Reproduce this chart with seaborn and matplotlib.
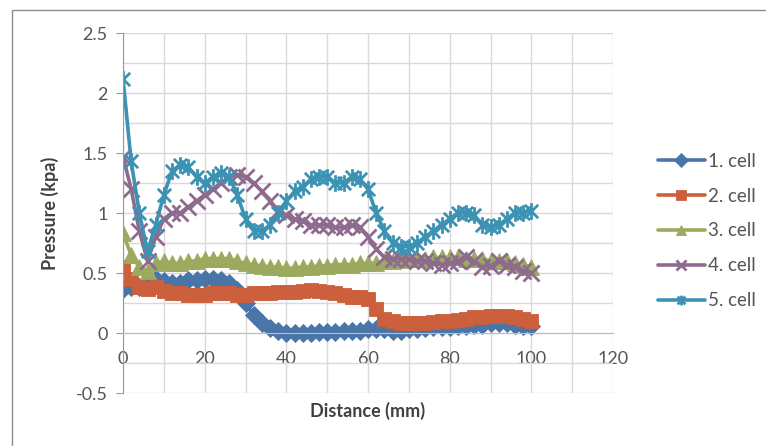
import numpy as np
import pandas as pd
import matplotlib
matplotlib.use("Agg")
import matplotlib.pyplot as plt
from matplotlib.path import Path
from matplotlib.patches import Rectangle
from matplotlib.ticker import MultipleLocator
import seaborn as sns

distance = list(range(0, 101, 2))

cell1 = [0.37, 0.38, 0.38, 0.42, 0.45, 0.43, 0.42, 0.42, 0.44, 0.44, 0.45, 0.45, 0.44, 0.42,
         0.36, 0.25, 0.15, 0.08, 0.04, 0.02, 0.00, 0.00, 0.00, 0.00, 0.01, 0.01, 0.01, 0.02,
         0.02, 0.02, 0.03, 0.03, 0.03, 0.02, 0.02, 0.03, 0.03, 0.04, 0.05, 0.05, 0.05, 0.06,
         0.06, 0.07, 0.07, 0.08, 0.08, 0.08, 0.07, 0.06, 0.06]
cell2 = [0.55, 0.45, 0.38, 0.37, 0.38, 0.35, 0.33, 0.33, 0.32, 0.32, 0.32, 0.33, 0.33, 0.33,
         0.32, 0.32, 0.33, 0.33, 0.33, 0.34, 0.34, 0.34, 0.35, 0.36, 0.35, 0.34, 0.33, 0.32,
         0.30, 0.30, 0.28, 0.20, 0.12, 0.10, 0.08, 0.08, 0.08, 0.08, 0.09, 0.10, 0.10, 0.11,
         0.12, 0.13, 0.13, 0.14, 0.14, 0.14, 0.13, 0.12, 0.10]
cell3 = [0.83, 0.65, 0.55, 0.52, 0.58, 0.60, 0.58, 0.58, 0.60, 0.60, 0.62, 0.62, 0.62, 0.62,
         0.60, 0.58, 0.57, 0.56, 0.55, 0.55, 0.54, 0.54, 0.55, 0.55, 0.56, 0.56, 0.57, 0.57,
         0.57, 0.58, 0.58, 0.58, 0.60, 0.60, 0.61, 0.62, 0.62, 0.62, 0.63, 0.63, 0.63, 0.63,
         0.62, 0.62, 0.62, 0.60, 0.60, 0.60, 0.58, 0.57, 0.55]
cell4 = [1.47, 1.20, 0.85, 0.60, 0.80, 0.95, 1.00, 1.00, 1.05, 1.10, 1.15, 1.20, 1.25, 1.30,
         1.32, 1.30, 1.25, 1.18, 1.10, 1.02, 0.98, 0.95, 0.93, 0.90, 0.90, 0.90, 0.88, 0.88,
         0.90, 0.88, 0.80, 0.70, 0.63, 0.62, 0.62, 0.62, 0.60, 0.60, 0.58, 0.57, 0.58, 0.60,
         0.63, 0.60, 0.55, 0.56, 0.60, 0.57, 0.55, 0.52, 0.50]
cell5 = [2.12, 1.43, 1.00, 0.68, 0.90, 1.15, 1.35, 1.40, 1.38, 1.30, 1.25, 1.30, 1.33, 1.30,
         1.15, 0.95, 0.85, 0.85, 0.90, 1.00, 1.10, 1.18, 1.22, 1.28, 1.30, 1.30, 1.25, 1.25,
         1.30, 1.28, 1.20, 1.00, 0.85, 0.75, 0.72, 0.72, 0.75, 0.80, 0.85, 0.90, 0.95, 1.00,
         1.00, 0.98, 0.90, 0.88, 0.90, 0.95, 1.00, 1.00, 1.02]

labels = ["1. cell", "2. cell", "3. cell", "4. cell", "5. cell"]
series = [cell1, cell2, cell3, cell4, cell5]

colors = ["#4A75A8", "#CC5F3C", "#9BAA5E", "#8E6A8E", "#3C92B2"]

star = Path([(-1, -1), (1, 1), (-1, 1), (1, -1), (0, -1.25), (0, 1.25)],
            [Path.MOVETO, Path.LINETO, Path.MOVETO, Path.LINETO, Path.MOVETO, Path.LINETO])
markers = ["D", "s", "^", "x", star]
msizes = [9, 9.5, 11, 11, 12]

sns.set_style("white")
plt.rcParams["font.family"] = ["Lato", "DejaVu Sans"]

fig = plt.figure(figsize=(7.66, 4.46), dpi=100)
ax = fig.add_axes([123 / 766, 1 - 393 / 446, (613 - 123) / 766, (393 - 33) / 446])

for lab, vals, col, mk, ms in zip(labels, series, colors, markers, msizes):
    df = pd.DataFrame({"Distance": distance, "Pressure": vals})
    filled = mk in ("D", "s", "^")
    sns.lineplot(data=df, x="Distance", y="Pressure", ax=ax, color=col, linewidth=2.6,
                 marker=mk, markersize=ms, markeredgecolor=col,
                 markerfacecolor=col if filled else "none",
                 markeredgewidth=0.6 if filled else 2.0,
                 errorbar=None, label=lab, legend=False)

ax.set_xlim(0, 120)
ax.set_ylim(-0.5, 2.5)
ax.xaxis.set_major_locator(MultipleLocator(20))
ax.xaxis.set_minor_locator(MultipleLocator(10))
ax.yaxis.set_major_locator(MultipleLocator(0.5))
ax.yaxis.set_minor_locator(MultipleLocator(0.25))
ax.grid(True, which="both", color="#d9d9d9", linewidth=1.0)
ax.set_axisbelow(True)

for s in ["top", "right"]:
    ax.spines[s].set_visible(False)
ax.spines["bottom"].set_position(("data", 0))
ax.spines["bottom"].set_color("#bfbfbf")
ax.spines["left"].set_color("#9a9a9a")
ax.tick_params(axis="x", length=0, pad=13, labelsize=13, labelcolor="#555555")
ax.tick_params(axis="y", which="major", length=5, direction="out", color="#9a9a9a",
               labelsize=13, labelcolor="#555555", left=True, pad=6)
ax.tick_params(axis="both", which="minor", length=0)
ax.set_yticks([-0.5, 0, 0.5, 1, 1.5, 2, 2.5])
ax.set_yticklabels(["-0.5", "0", "0.5", "1", "1.5", "2", "2.5"])

ax.set_xlabel("")
ax.set_ylabel("")
fig.text(368 / 766, 1 - 411 / 446, "Distance (mm)", ha="center", va="center",
         fontsize=13, fontweight="bold", color="#404040")
fig.text(50 / 766, 1 - 213 / 446, "Pressure (kpa)", ha="center", va="center",
         rotation=90, fontsize=13, fontweight="bold", color="#404040")

handles, labs = ax.get_legend_handles_labels()
leg = fig.legend(handles, labs, loc="center left", bbox_to_anchor=(658 / 766, 1 - 231 / 446),
                 frameon=False, fontsize=13.5, handlelength=2.5, handletextpad=0.15,
                 labelspacing=0.95, borderpad=0, borderaxespad=0, labelcolor="#555555")
for h in leg.legend_handles:
    h.set_markersize(7)
    h.set_linewidth(2.6)

fig.patches.append(Rectangle((12 / 766, -0.1), 1.2, 1 - 10 / 446 + 0.1,
                             transform=fig.transFigure, fill=False,
                             edgecolor="#8c8c8c", linewidth=1.0))

fig.savefig("out.png", dpi=100)
